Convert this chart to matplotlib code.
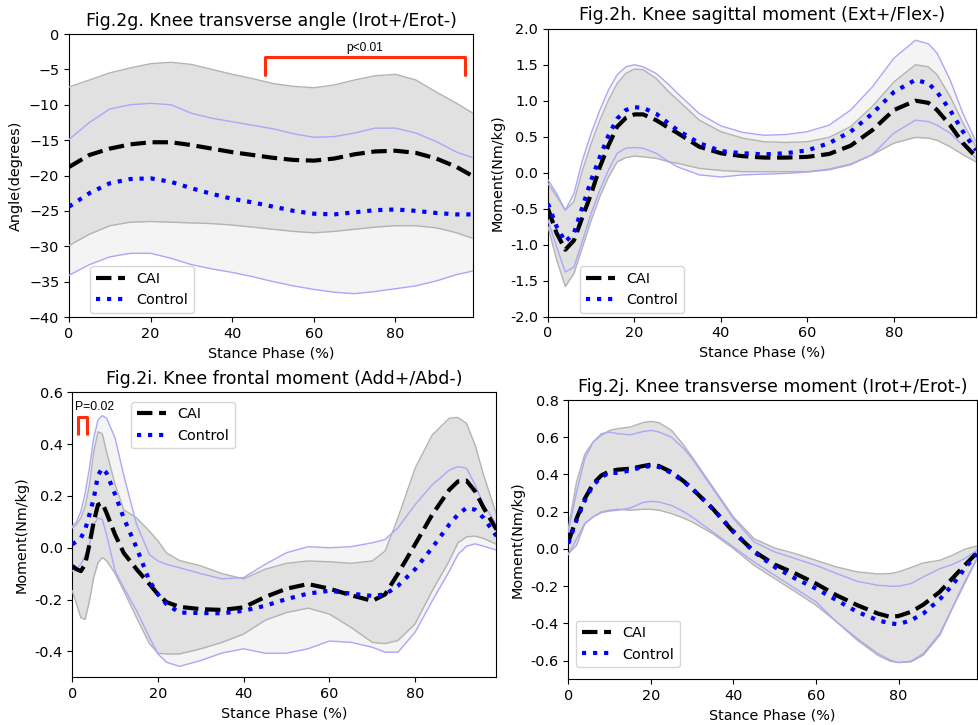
import matplotlib
matplotlib.use("Agg")
import matplotlib.pyplot as plt

# ---------------- data ----------------
# Fig.2g knee transverse angle
x_g = [0, 5, 10, 15, 20, 25, 30, 35, 40, 45, 50, 55, 60, 65, 70, 75, 80, 85, 90, 95, 99]
cai_mean_g = [-18.8, -17.1, -16.2, -15.6, -15.3, -15.3, -15.7, -16.2, -16.7, -17.1, -17.5, -17.8, -17.9, -17.6, -17.0, -16.6, -16.5, -16.8, -17.6, -18.8, -20.1]
cai_up_g = [-7.5, -6.5, -5.5, -4.8, -4.2, -4.0, -4.3, -5.0, -5.7, -6.3, -7.0, -7.4, -7.6, -7.2, -6.5, -5.9, -5.7, -6.5, -8.2, -9.8, -11.2]
cai_lo_g = [-29.9, -28.3, -27.1, -26.6, -26.5, -26.6, -26.7, -26.8, -27.0, -27.3, -27.6, -27.9, -28.1, -27.9, -27.6, -27.3, -27.1, -27.1, -27.4, -28.1, -28.9]
ctl_mean_g = [-24.4, -22.5, -21.1, -20.5, -20.4, -20.9, -21.8, -22.6, -23.3, -23.8, -24.4, -25.0, -25.4, -25.5, -25.2, -24.9, -24.8, -25.0, -25.3, -25.5, -25.5]
ctl_up_g = [-14.9, -12.5, -10.6, -10.0, -9.8, -10.0, -11.2, -11.9, -12.4, -12.9, -13.4, -14.1, -14.6, -14.5, -14.0, -13.3, -13.3, -14.0, -15.2, -16.7, -17.5]
ctl_lo_g = [-34.1, -32.6, -31.5, -31.0, -31.0, -31.7, -32.6, -33.2, -33.7, -34.3, -35.0, -35.6, -36.1, -36.5, -36.7, -36.4, -36.0, -35.6, -34.9, -34.0, -33.5]

# Fig.2h knee sagittal moment
x_h = [0, 2, 4, 6, 8, 10, 12, 14, 16, 18, 20, 22, 25, 28, 30, 35, 40, 45, 50, 55, 60, 65, 70, 75, 80, 85, 88, 90, 93, 96, 99]
cai_mean_h = [-0.50, -0.84, -1.07, -0.94, -0.61, -0.29, 0.08, 0.38, 0.64, 0.76, 0.81, 0.81, 0.73, 0.62, 0.55, 0.36, 0.27, 0.23, 0.21, 0.21, 0.22, 0.26, 0.375, 0.59, 0.87, 1.0, 0.97, 0.87, 0.66, 0.41, 0.22]
cai_up_h = [-0.15, -0.33, -0.52, -0.40, 0.04, 0.41, 0.73, 1.01, 1.24, 1.38, 1.44, 1.43, 1.31, 1.12, 1.01, 0.73, 0.57, 0.48, 0.43, 0.42, 0.43, 0.49, 0.64, 0.92, 1.26, 1.50, 1.47, 1.36, 1.06, 0.69, 0.36]
cai_lo_h = [-0.75, -1.21, -1.58, -1.40, -1.03, -0.66, -0.33, -0.06, 0.15, 0.21, 0.23, 0.22, 0.20, 0.15, 0.13, 0.06, 0.03, 0.014, 0.014, 0.014, 0.014, 0.05, 0.12, 0.25, 0.41, 0.49, 0.48, 0.45, 0.36, 0.25, 0.15]
ctl_mean_h = [-0.43, -0.75, -0.96, -0.84, -0.47, -0.10, 0.22, 0.52, 0.75, 0.87, 0.91, 0.90, 0.82, 0.68, 0.59, 0.41, 0.30, 0.27, 0.255, 0.27, 0.31, 0.41, 0.57, 0.82, 1.12, 1.29, 1.24, 1.12, 0.87, 0.57, 0.31]
ctl_up_h = [-0.10, -0.29, -0.52, -0.29, 0.18, 0.55, 0.87, 1.15, 1.36, 1.47, 1.50, 1.47, 1.38, 1.22, 1.10, 0.82, 0.65, 0.56, 0.52, 0.53, 0.57, 0.66, 0.87, 1.19, 1.59, 1.84, 1.79, 1.66, 1.29, 0.82, 0.43]
ctl_lo_h = [-0.66, -1.03, -1.38, -1.31, -0.94, -0.56, -0.24, 0.04, 0.27, 0.34, 0.35, 0.34, 0.27, 0.15, 0.08, -0.03, -0.06, -0.03, -0.02, -0.01, 0.01, 0.04, 0.11, 0.25, 0.55, 0.73, 0.71, 0.66, 0.55, 0.38, 0.20]

# Fig.2i knee frontal moment
x_i = [0, 1, 2, 3, 4, 5, 6, 7, 8, 10, 12, 15, 18, 20, 22, 25, 30, 35, 40, 45, 50, 55, 60, 65, 70, 73, 76, 80, 84, 88, 90, 92, 94, 96, 99]
cai_mean_i = [-0.07, -0.083, -0.09, -0.064, 0.013, 0.10, 0.166, 0.173, 0.134, 0.05, -0.02, -0.083, -0.14, -0.18, -0.21, -0.228, -0.237, -0.24, -0.23, -0.19, -0.158, -0.14, -0.158, -0.183, -0.205, -0.18, -0.10, 0.013, 0.128, 0.224, 0.256, 0.259, 0.218, 0.154, 0.07]
cai_up_i = [0.077, 0.09, 0.115, 0.16, 0.243, 0.37, 0.448, 0.44, 0.37, 0.243, 0.147, 0.115, 0.064, 0.026, -0.02, -0.049, -0.07, -0.10, -0.12, -0.083, -0.06, -0.051, -0.054, -0.06, -0.051, -0.013, 0.115, 0.307, 0.435, 0.50, 0.503, 0.48, 0.397, 0.28, 0.128]
cai_lo_i = [-0.166, -0.218, -0.27, -0.277, -0.205, -0.115, -0.058, -0.038, -0.05, -0.10, -0.166, -0.27, -0.37, -0.407, -0.41, -0.41, -0.39, -0.365, -0.333, -0.28, -0.25, -0.233, -0.256, -0.307, -0.365, -0.37, -0.358, -0.294, -0.166, -0.05, 0.019, 0.042, 0.045, 0.036, 0.013]
ctl_mean_i = [0.013, 0.025, 0.038, 0.07, 0.128, 0.19, 0.28, 0.307, 0.288, 0.205, 0.115, 0.0, -0.128, -0.18, -0.218, -0.25, -0.252, -0.253, -0.243, -0.224, -0.198, -0.177, -0.166, -0.177, -0.186, -0.18, -0.147, -0.083, 0.0, 0.09, 0.128, 0.154, 0.147, 0.115, 0.045]
ctl_up_i = [0.083, 0.10, 0.14, 0.21, 0.307, 0.423, 0.493, 0.51, 0.50, 0.423, 0.28, 0.09, -0.026, -0.051, -0.064, -0.077, -0.10, -0.12, -0.115, -0.064, -0.019, 0.004, 0.0, 0.004, 0.019, 0.032, 0.077, 0.166, 0.243, 0.30, 0.313, 0.307, 0.243, 0.166, 0.09]
ctl_lo_i = [-0.09, -0.08, -0.064, -0.03, 0.013, 0.09, 0.115, 0.109, 0.05, -0.09, -0.154, -0.243, -0.346, -0.41, -0.442, -0.458, -0.435, -0.406, -0.39, -0.407, -0.407, -0.39, -0.36, -0.365, -0.384, -0.403, -0.403, -0.326, -0.205, -0.09, -0.026, 0.006, 0.015, 0.006, -0.009]

# Fig.2j knee transverse moment
x_j = [0, 2, 4, 6, 8, 10, 12, 15, 18, 20, 22, 25, 28, 30, 35, 40, 45, 50, 55, 60, 65, 70, 75, 78, 80, 83, 86, 90, 93, 96, 99]
cai_mean_j = [0.038, 0.163, 0.27, 0.35, 0.395, 0.417, 0.426, 0.431, 0.445, 0.453, 0.445, 0.413, 0.363, 0.324, 0.216, 0.091, -0.013, -0.084, -0.132, -0.186, -0.249, -0.302, -0.347, -0.365, -0.36, -0.338, -0.299, -0.23, -0.159, -0.088, -0.02]
cai_up_j = [0.109, 0.36, 0.51, 0.574, 0.61, 0.637, 0.646, 0.655, 0.678, 0.685, 0.678, 0.637, 0.556, 0.494, 0.333, 0.172, 0.055, 0.005, -0.025, -0.061, -0.097, -0.123, -0.134, -0.132, -0.123, -0.10, -0.075, -0.061, -0.034, -0.002, 0.016]
cai_lo_j = [-0.025, 0.02, 0.136, 0.172, 0.199, 0.208, 0.213, 0.208, 0.213, 0.213, 0.208, 0.19, 0.165, 0.145, 0.082, 0.002, -0.088, -0.159, -0.23, -0.302, -0.392, -0.481, -0.562, -0.597, -0.61, -0.606, -0.57, -0.463, -0.32, -0.186, -0.052]
ctl_mean_j = [0.029, 0.154, 0.26, 0.342, 0.386, 0.41, 0.408, 0.422, 0.44, 0.445, 0.44, 0.408, 0.36, 0.324, 0.216, 0.095, -0.016, -0.097, -0.159, -0.213, -0.275, -0.338, -0.383, -0.40, -0.404, -0.383, -0.347, -0.27, -0.195, -0.106, -0.025]
ctl_up_j = [0.091, 0.306, 0.485, 0.574, 0.619, 0.628, 0.619, 0.613, 0.63, 0.637, 0.628, 0.60, 0.538, 0.485, 0.324, 0.163, 0.038, -0.016, -0.052, -0.088, -0.132, -0.174, -0.195, -0.20, -0.20, -0.186, -0.15, -0.106, -0.084, -0.052, -0.007]
ctl_lo_j = [-0.03, 0.055, 0.136, 0.172, 0.195, 0.204, 0.208, 0.22, 0.249, 0.256, 0.252, 0.234, 0.20, 0.172, 0.091, 0.011, -0.07, -0.141, -0.213, -0.284, -0.392, -0.49, -0.571, -0.603, -0.61, -0.603, -0.562, -0.454, -0.317, -0.177, -0.052]

titles = ["Fig.2g. Knee transverse angle (Irot+/Erot-)",
          "Fig.2h. Knee sagittal moment (Ext+/Flex-)",
          "Fig.2i. Knee frontal moment (Add+/Abd-)",
          "Fig.2j. Knee transverse moment (Irot+/Erot-)"]
ylabels = ["Angle(degrees)", "Moment(Nm/kg)", "Moment(Nm/kg)", "Moment(Nm/kg)"]
xlabel = "Stance Phase (%)"
legend_labels = ["CAI", "Control"]

# significance annotations
sig_g = dict(x0=48, x1=97, ylo=-5.8, yhi=-3.3, text="p<0.01", tx=72.5, ty=-2.0)
sig_i = dict(x0=1.25, x1=3.4, ylo=0.436, yhi=0.506, text="P=0.02", tx=0.6, ty=0.545)

# ---------------- style ----------------
FS_TICK = 10.4
FS_TITLE = 12.5
plt.rcParams.update({
    "font.family": ["DejaVu Sans"],
    "xtick.labelsize": FS_TICK,
    "ytick.labelsize": FS_TICK,
    "axes.labelsize": FS_TICK,
    "legend.fontsize": FS_TICK,
})

fig = plt.figure(figsize=(9.79, 7.25), dpi=100)
W, H = 979, 725

def add_ax(left, top, right, bottom):
    return fig.add_axes([left / W, 1 - bottom / H, (right - left) / W, (bottom - top) / H])

C_FILL_CAI = "#e1e1e1"
C_FILL_CTL = "#f4f4f4"
C_EDGE_CAI = "#b3b3b3"
C_EDGE_CTL = "#a8a8fa"
C_RED = "#ff2d0a"

def draw(ax, x, cm, cu, cl, km, ku, kl, ylim, yticks, title, ylabel, leg_loc, leg_anchor):
    ax.fill_between(x, kl, ku, color=C_FILL_CTL, lw=0, zorder=1)
    ax.fill_between(x, cl, cu, color=C_FILL_CAI, lw=0, zorder=2)
    ax.plot(x, cu, color=C_EDGE_CAI, lw=1.0, zorder=3)
    ax.plot(x, cl, color=C_EDGE_CAI, lw=1.0, zorder=3)
    ax.plot(x, ku, color=C_EDGE_CTL, lw=1.0, zorder=3)
    ax.plot(x, kl, color=C_EDGE_CTL, lw=1.0, zorder=3)
    ax.plot(x, cm, color="black", ls="--", lw=3, zorder=5, label=legend_labels[0])
    ax.plot(x, km, color="blue", ls=":", lw=3, zorder=6, label=legend_labels[1])
    ax.set_xlim(0, 99)
    ax.set_ylim(*ylim)
    ax.set_xticks([0, 20, 40, 60, 80])
    ax.set_yticks(yticks)
    ax.set_title(title, fontsize=FS_TITLE)
    ax.set_ylabel(ylabel)
    ax.set_xlabel(xlabel)
    ax.legend(loc=leg_loc, bbox_to_anchor=leg_anchor, borderaxespad=0)

# g
ax_g = add_ax(69, 34, 473, 317)
draw(ax_g, x_g, cai_mean_g, cai_up_g, cai_lo_g, ctl_mean_g, ctl_up_g, ctl_lo_g,
     (-40, 0), [-40, -35, -30, -25, -20, -15, -10, -5, 0], titles[0], ylabels[0],
     "lower left", (0.052, 0.014))
ax_g.plot([sig_g["x0"], sig_g["x0"], sig_g["x1"], sig_g["x1"]],
          [sig_g["ylo"], sig_g["yhi"], sig_g["yhi"], sig_g["ylo"]],
          color=C_RED, lw=2.2, solid_joinstyle="round", solid_capstyle="round", zorder=7)
ax_g.text(sig_g["tx"], sig_g["ty"], sig_g["text"], ha="center", va="center",
          fontsize=8.6, family=["Liberation Sans", "DejaVu Sans"])

# h
ax_h = add_ax(548, 28.7, 976, 316.7)
draw(ax_h, x_h, cai_mean_h, cai_up_h, cai_lo_h, ctl_mean_h, ctl_up_h, ctl_lo_h,
     (-2, 2), [-2.0, -1.5, -1.0, -0.5, 0.0, 0.5, 1.0, 1.5, 2.0], titles[1], ylabels[1],
     "lower left", (0.075, 0.013))
ax_h.yaxis.set_major_formatter(matplotlib.ticker.FormatStrFormatter("%.1f"))

# i
ax_i = add_ax(72.3, 392.3, 496.5, 677.3)
draw(ax_i, x_i, cai_mean_i, cai_up_i, cai_lo_i, ctl_mean_i, ctl_up_i, ctl_lo_i,
     (-0.5, 0.6), [-0.4, -0.2, 0.0, 0.2, 0.4, 0.6], titles[2], ylabels[2],
     "upper left", (0.138, 0.967))
ax_i.yaxis.set_major_formatter(matplotlib.ticker.FormatStrFormatter("%.1f"))
ax_i.plot([sig_i["x0"], sig_i["x0"], sig_i["x1"], sig_i["x1"]],
          [sig_i["ylo"], sig_i["yhi"], sig_i["yhi"], sig_i["ylo"]],
          color=C_RED, lw=2.2, solid_joinstyle="round", solid_capstyle="butt", zorder=7)
ax_i.text(sig_i["tx"], sig_i["ty"], sig_i["text"], ha="left", va="center",
          fontsize=8.8, family=["Liberation Sans", "DejaVu Sans"])

# j
ax_j = add_ax(568.3, 400, 977, 679.3)
draw(ax_j, x_j, cai_mean_j, cai_up_j, cai_lo_j, ctl_mean_j, ctl_up_j, ctl_lo_j,
     (-0.7, 0.8), [-0.6, -0.4, -0.2, 0.0, 0.2, 0.4, 0.6, 0.8], titles[3], ylabels[3],
     "lower left", (0.019, 0.043))
ax_j.yaxis.set_major_formatter(matplotlib.ticker.FormatStrFormatter("%.1f"))

fig.savefig("out.png", dpi=100)
